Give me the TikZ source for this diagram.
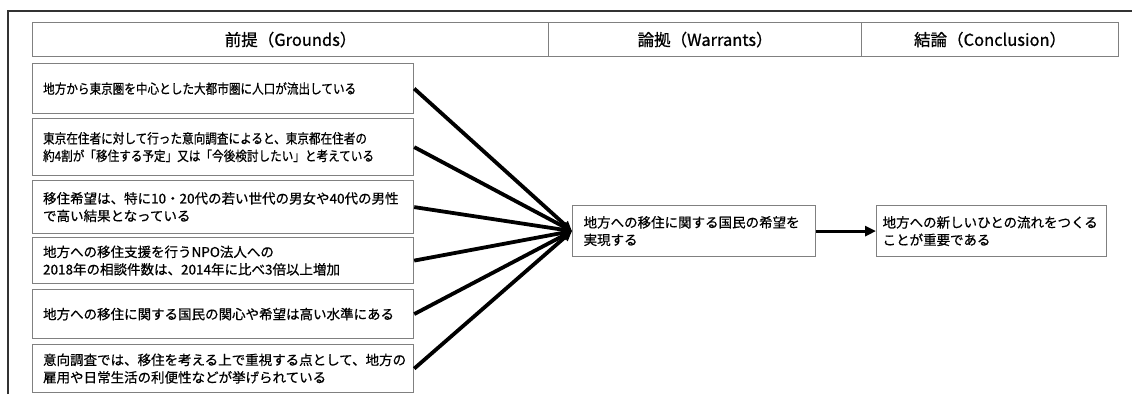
\documentclass[tikz,border=0pt]{standalone}
\usepackage{fontspec}
\setmainfont{Noto Sans CJK JP}[FakeBold=0.6]
\newfontfamily\jpcond[FakeStretch=0.86,FakeBold=0.6]{Noto Sans CJK JP}
\newfontfamily\jphead[FakeBold=0.8]{Noto Sans CJK JP}
\usetikzlibrary{arrows.meta}
\begin{document}
\begin{tikzpicture}[x=1pt,y=-1pt,
  every node/.style={font=\fontsize{13.5}{17.5}\selectfont},
  hdr/.style={draw=gray, line width=1.2pt, minimum height=34pt, anchor=north west, inner sep=0pt,
    font=\jphead\fontsize{16.5}{19}\selectfont},
  gbox/.style={draw=gray, line width=1.2pt, anchor=north west, align=left, inner xsep=10.5pt, inner ysep=2pt, text width=360pt},
  wbox/.style={draw=gray, line width=1.2pt, anchor=north west, align=left, inner ysep=2pt},
  conn/.style={line width=3.8pt, -{Triangle[length=10pt,width=9pt]}},
  conn2/.style={line width=3.2pt, -{Triangle[length=11pt,width=10pt]}}
]
\useasboundingbox (0,0) rectangle (1132,394);
\fill[white] (0,0) rectangle (1132,394);
\draw[line width=2pt, black!80] (8,394) -- (8,11) -- (1132,11);
% headers
\node[hdr, minimum width=516pt] (h1) at (32,22) {前提（Grounds）};
\node[hdr, minimum width=313pt] (h2) at (548,22) {論拠（Warrants）};
\node[hdr, minimum width=257pt] (h3) at (861,22) {結論（Conclusion）};
% grounds
\node[gbox, minimum height=50pt] (g1) at (32,63) {\jpcond 地方から東京圏を中心とした大都市圏に人口が流出している};
\node[gbox, minimum height=57pt] (g2) at (32,118) {\jpcond 東京在住者に対して行った意向調査によると、東京都在住者の\\\jpcond 約4割が「移住する予定」又は「今後検討したい」と考えている};
\node[gbox, minimum height=53pt] (g3) at (32,180) {移住希望は、特に10・20代の若い世代の男女や40代の男性\\で高い結果となっている};
\node[gbox, minimum height=46pt] (g4) at (32,237) {地方への移住支援を行うNPO法人への\\2018年の相談件数は、2014年に比べ3倍以上増加};
\node[gbox, minimum height=49pt] (g5) at (32,289) {地方への移住に関する国民の関心や希望は高い水準にある};
\node[gbox, minimum height=48pt] (g6) at (32,344) {意向調査では、移住を考える上で重視する点として、地方の\\雇用や日常生活の利便性などが挙げられている};
% warrant and conclusion
\node[wbox, inner xsep=11pt, text width=221pt, minimum height=51pt] (w) at (572,205) {地方への移住に関する国民の希望を\\実現する};
\node[wbox, inner xsep=6pt, text width=218pt, minimum height=51pt] (c) at (876,205) {地方への新しいひとの流れをつくる\\ことが重要である};
% connectors
\foreach \g in {g1,g2,g3,g4,g5,g6}
  \draw[conn] (\g.east) -- (w.west);
\draw[conn2] (w.east) -- (c.west);
\end{tikzpicture}
\end{document}
